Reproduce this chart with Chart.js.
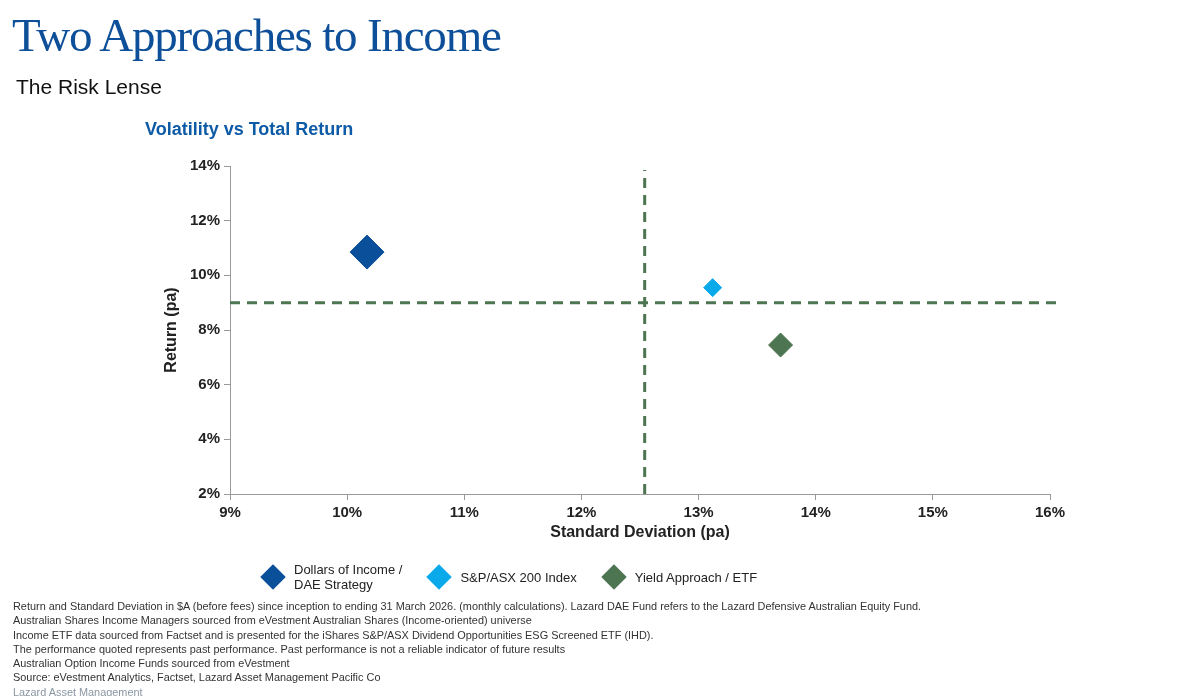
<!DOCTYPE html>
<html>
<head>
<meta charset="utf-8">
<script src="https://cdn.jsdelivr.net/npm/chart.js@4"></script>
<style>
  body { margin: 0; width: 1182px; height: 696px; background: #fff; position: relative; overflow: hidden; font-family: "Liberation Sans", Arial, sans-serif; }
  #wrap { position: absolute; left: 0; top: 0; width: 1182px; height: 696px; }
  .t { position: absolute; white-space: nowrap; }
  #title { left: 12px; top: 8px; font-family: "Liberation Serif", serif; font-size: 47px; color: #0d4f98; letter-spacing: -1.2px; }
  #sub { left: 16px; top: 75px; font-size: 21px; color: #111; }
  #ctitle { left: 145px; top: 119px; font-size: 18px; font-weight: bold; color: #0d5aa7; }
  #legend { left: 258px; top: 562px; font-size: 13px; color: #222; display: flex; align-items: center; }
  .li { display: flex; align-items: center; margin-right: 22px; }
  .d { width: 18px; height: 18px; transform: rotate(45deg); margin: 0 12px 0 6px; }
  #notes { left: 13px; top: 599px; font-size: 10.9px; line-height: 14.3px; color: #333; }
</style>
</head>
<body>
<div id="wrap"><canvas id="chart"></canvas></div>
<div class="t" id="title">Two Approaches to Income</div>
<div class="t" id="sub">The Risk Lense</div>
<div class="t" id="ctitle">Volatility vs Total Return</div>
<div class="t" id="legend">
  <div class="li"><div class="d" style="background:#0a4f9a"></div><div>Dollars of Income /<br>DAE Strategy</div></div>
  <div class="li"><div class="d" style="background:#0aa9ea"></div><div>S&amp;P/ASX 200 Index</div></div>
  <div class="li"><div class="d" style="background:#4e7552"></div><div>Yield Approach / ETF</div></div>
</div>
<div class="t" id="notes">
Return and Standard Deviation in $A (before fees) since inception to ending 31 March 2026. (monthly calculations). Lazard DAE Fund refers to the Lazard Defensive Australian Equity Fund.<br>
Australian Shares Income Managers sourced from eVestment Australian Shares (Income-oriented) universe<br>
Income ETF data sourced from Factset and is presented for the iShares S&amp;P/ASX Dividend Opportunities ESG Screened ETF (IHD).<br>
The performance quoted represents past performance. Past performance is not a reliable indicator of future results<br>
Australian Option Income Funds sourced from eVestment<br>
Source: eVestment Analytics, Factset, Lazard Asset Management Pacific Co<br>
<span style="color:#8a96a3">Lazard Asset Management</span>
</div>
<script>
// series: [std dev %, return %]
const seriesNames = ['Dollars of Income / DAE Strategy', 'S&P/ASX 200 Index', 'Yield Approach / ETF'];
const stdDev = [10.17, 13.12, 13.70];
const returns = [10.85, 9.55, 7.45];
const colors = ['#0a4f9a', '#0aa9ea', '#4e7552'];
const sizes = [17, 9, 12];
const avgStdDev = 12.54;
const avgReturn = 9.0;
const xTicks = [9, 10, 11, 12, 13, 14, 15, 16];
const yTicks = [2, 4, 6, 8, 10, 12, 14];

const datasets = seriesNames.map((name, i) => ({
    type: 'scatter',
    label: name,
    data: [{ x: stdDev[i], y: returns[i] }],
    backgroundColor: colors[i],
    borderColor: colors[i],
    pointStyle: 'rectRot',
    pointRadius: sizes[i],
    pointHoverRadius: sizes[i]
}));

const refLine = (pts) => ({
    type: 'line',
    data: pts,
    borderColor: '#4e7552',
    borderWidth: 3,
    borderDash: [10, 7],
    pointRadius: 0,
    clip: false,
    order: 5
});
datasets.push(refLine([{ x: avgStdDev, y: 2 }, { x: avgStdDev, y: 13.85 }]));
datasets.push(refLine([{ x: 9, y: avgReturn }, { x: 16.1, y: avgReturn }]));

const tickFont = { family: 'Liberation Sans, Arial', size: 15, weight: 'bold' };
const axisGrid = { display: true, drawOnChartArea: false, drawTicks: true, tickLength: 6, color: '#999' };

new Chart(document.getElementById('chart'), {
    data: { datasets },
    options: {
        responsive: true,
        maintainAspectRatio: false,
        animation: false,
        layout: { padding: { left: 158, right: 132, top: 166, bottom: 150 } },
        plugins: { legend: { display: false }, tooltip: { enabled: false } },
        scales: {
            x: {
                type: 'linear', min: 9, max: 16,
                afterBuildTicks: (s) => { s.ticks = xTicks.map(v => ({ value: v })); },
                afterFit: (s) => { s.height = 52; },
                grid: axisGrid,
                border: { color: '#999' },
                ticks: { color: '#222', font: tickFont, callback: v => v + '%', padding: 4 },
                title: { display: true, text: 'Standard Deviation (pa)', color: '#222', font: { family: 'Liberation Sans, Arial', size: 16, weight: 'bold' }, padding: { top: 4 } }
            },
            y: {
                type: 'linear', min: 2, max: 14,
                afterBuildTicks: (s) => { s.ticks = yTicks.map(v => ({ value: v })); },
                afterFit: (s) => { s.width = 72; },
                grid: axisGrid,
                border: { color: '#999' },
                ticks: { color: '#222', font: tickFont, callback: v => v + '%', padding: 4 },
                title: { display: true, text: 'Return (pa)', color: '#222', font: { family: 'Liberation Sans, Arial', size: 16, weight: 'bold' }, padding: { bottom: 2 } }
            }
        }
    }
});
</script>
</body>
</html>
